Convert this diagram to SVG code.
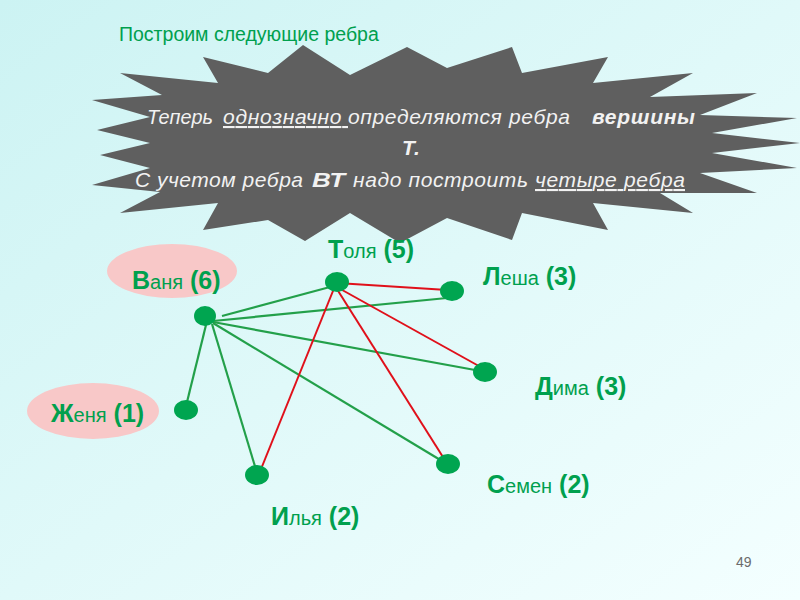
<svg xmlns="http://www.w3.org/2000/svg" width="800" height="600" viewBox="0 0 800 600">
  <defs>
    <linearGradient id="bg" x1="0" y1="0" x2="1" y2="1">
      <stop offset="0" stop-color="#ccf3f3"/>
      <stop offset="1" stop-color="#f4ffff"/>
    </linearGradient>
    <style>
      .star-text { font-family: "Liberation Sans", Arial, sans-serif; font-style: italic; fill: #f2f2f2; font-size: 21px; }
      .b { font-weight: bold; }
      .u { text-decoration: underline; }
      .lbl { font-family: "Liberation Sans", Arial, sans-serif; fill: #00a04e; }
      .big { font-size: 25px; font-weight: bold; }
      .small { font-size: 20px; }
      .node { fill: #00a550; }
      .pink { fill: #f8c8c8; }
      .eg { stroke: #23a04a; stroke-width: 2.2; fill: none; }
      .er { stroke: #e0101a; stroke-width: 2; fill: none; }
    </style>
  </defs>
  <rect x="0" y="0" width="800" height="600" fill="url(#bg)"/>

  <text x="119" y="41" font-family="Liberation Sans, Arial, sans-serif" font-size="19.5" fill="#00a04e">Построим следующие ребра</text>

  <g id="callout">
    <polygon fill="#5f5f5f" points="120,73 218,83 203,57 268,73 303,45 350,75 407,47 447,68 512,47 522,73 608,57 593,83 693,73 650,97 757,93 700,115 797,118 712,133 800,143 712,153 797,168 700,173 757,193 660,193 693,213 593,203 608,230 522,213 512,240 447,218 400,243 350,213 305,241 268,220 203,230 218,203 120,213 160,192 92,185 150,168 100,155 150,143 97,130 150,117 92,100 162,95"/>
    <text class="star-text" x="147" y="124" textLength="66" lengthAdjust="spacingAndGlyphs">Теперь</text>
    <text class="star-text u" x="223" y="124" textLength="125" lengthAdjust="spacing">однозначно&#160;</text>
    <text class="star-text" x="348" y="124" textLength="222" lengthAdjust="spacing">определяются ребра</text>
    <text class="star-text b" x="592" y="124" textLength="103" lengthAdjust="spacing">вершины</text>
    <text class="star-text b" x="402" y="155">Т.</text>
    <text class="star-text" x="135" y="187" textLength="168" lengthAdjust="spacing">С учетом ребра</text>
    <text class="star-text b" x="312" y="187" font-size="23" textLength="33" lengthAdjust="spacingAndGlyphs">ВТ</text>
    <text class="star-text" x="353" y="187" textLength="175" lengthAdjust="spacing">надо построить</text>
    <text class="star-text u" x="535" y="187" textLength="150" lengthAdjust="spacing">четыре ребра</text>
  </g>

  <g id="connectors">
    <line class="eg" x1="222" y1="316" x2="330" y2="287"/>
    <line class="eg" x1="213" y1="321" x2="447" y2="298"/>
    <line class="eg" x1="213" y1="322" x2="486" y2="372"/>
    <line class="eg" x1="213" y1="323" x2="447" y2="464"/>
    <line class="eg" x1="212" y1="324" x2="257" y2="473"/>
    <line class="eg" x1="206" y1="325" x2="187" y2="402"/>
    <line class="er" x1="337" y1="283" x2="463" y2="291"/>
    <line class="er" x1="335" y1="286" x2="486" y2="370"/>
    <line class="er" x1="335" y1="286" x2="448" y2="465"/>
    <line class="er" x1="335" y1="286" x2="259" y2="474"/>
  </g>

  <g id="node-vanya">
    <ellipse class="pink" cx="172" cy="271" rx="65" ry="27"/>
    <ellipse class="node" cx="205" cy="316" rx="11" ry="10"/>
    <text class="lbl" x="132" y="289"><tspan class="big">В</tspan><tspan class="small">аня</tspan><tspan class="big"> (6)</tspan></text>
  </g>
  <g id="node-tolya">
    <ellipse class="node" cx="337" cy="282" rx="12" ry="10"/>
    <text class="lbl" x="328" y="258"><tspan class="big">Т</tspan><tspan class="small">оля</tspan><tspan class="big"> (5)</tspan></text>
  </g>
  <g id="node-lesha">
    <ellipse class="node" cx="452" cy="291" rx="12" ry="10"/>
    <text class="lbl" x="483" y="285"><tspan class="big">Л</tspan><tspan class="small">еша</tspan><tspan class="big"> (3)</tspan></text>
  </g>
  <g id="node-dima">
    <ellipse class="node" cx="485" cy="372" rx="12" ry="10"/>
    <text class="lbl" x="535" y="395"><tspan class="big">Д</tspan><tspan class="small">има</tspan><tspan class="big"> (3)</tspan></text>
  </g>
  <g id="node-zhenya">
    <ellipse class="pink" cx="93" cy="411" rx="66" ry="28"/>
    <ellipse class="node" cx="186" cy="410" rx="12" ry="10"/>
    <text class="lbl" x="51" y="422"><tspan class="big">Ж</tspan><tspan class="small">еня</tspan><tspan class="big"> (1)</tspan></text>
  </g>
  <g id="node-ilya">
    <ellipse class="node" cx="257" cy="475" rx="12" ry="10"/>
    <text class="lbl" x="271" y="525"><tspan class="big">И</tspan><tspan class="small">лья</tspan><tspan class="big"> (2)</tspan></text>
  </g>
  <g id="node-semen">
    <ellipse class="node" cx="448" cy="464" rx="12" ry="10"/>
    <text class="lbl" x="487" y="493"><tspan class="big">С</tspan><tspan class="small">емен</tspan><tspan class="big"> (2)</tspan></text>
  </g>

  <text x="736" y="567" font-family="Liberation Sans, Arial, sans-serif" font-size="14" fill="#6b6b6b">49</text>
</svg>
